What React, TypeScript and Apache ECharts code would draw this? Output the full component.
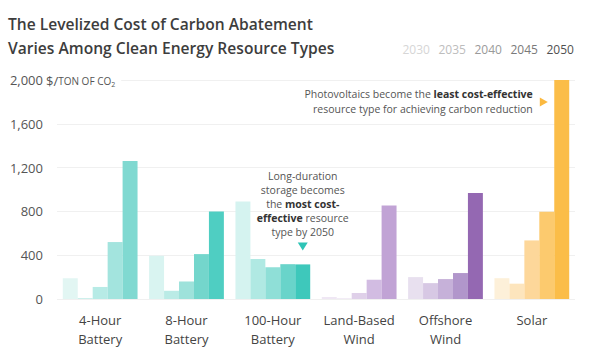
import React, { useEffect, useRef } from "react";
import * as echarts from "echarts";

const FONT = "'Open Sans', 'Noto Sans', sans-serif";

const categories = [
  "4-Hour\nBattery",
  "8-Hour\nBattery",
  "100-Hour\nBattery",
  "Land-Based\nWind",
  "Offshore\nWind",
  "Solar",
];
const years = ["2030", "2035", "2040", "2045", "2050"];

const v2030 = [190, 395, 890, 18, 200, 190];
const v2035 = [10, 75, 365, 6, 145, 140];
const v2040 = [110, 160, 290, 55, 182, 535];
const v2045 = [520, 410, 318, 176, 237, 796];
const v2050 = [1260, 800, 316, 855, 967, 2000];
const seriesValues = [v2030, v2035, v2040, v2045, v2050];

const yTicks = [0, 400, 800, 1200, 1600, 2000];

// colours per category, light (2030) -> dark (2050)
const palettes = [
  ["#e2f6f3", "#cdf0ec", "#b7ebe6", "#a3e4de", "#80d9d1"],
  ["#d9f4f1", "#baebe6", "#9ee2db", "#74d6cc", "#4fcec2"],
  ["#d5f3f0", "#b0e9e3", "#8fdfd7", "#69d4ca", "#3ec8bb"],
  ["#efe7f4", "#ebe2f1", "#dfd0e9", "#d2bce2", "#c1a3d5"],
  ["#e8e0ef", "#d7c8e4", "#c6b1d9", "#b196cb", "#9468b2"],
  ["#fdf0d9", "#fde5bd", "#fdd79a", "#fcca6e", "#fbbd48"],
];
const legendColors = ["#d6d6d6", "#bdbdbd", "#9a9a9a", "#7a7a7a", "#505050"];

export default function App() {
  const ref = useRef<HTMLDivElement>(null);

  useEffect(() => {
    document.body.style.margin = "0";
    if (!ref.current) return;
    const chart = echarts.init(ref.current, null, { renderer: "svg" });

    const series: any[] = years.map((y, i) => ({
      type: "bar",
      name: y,
      barGap: "0%",
      barCategoryGap: "13.4%",
      data: seriesValues[i].map((v, j) => ({
        value: v,
        itemStyle: { color: palettes[j][i] },
      })),
    }));

    series[4].markPoint = {
      silent: true,
      data: [
        {
          coord: [categories[2], 480],
          symbol: "triangle",
          symbolRotate: 180,
          symbolSize: [10, 8],
          itemStyle: { color: "#2ec4b6" },
          label: {
            show: true,
            position: "top",
            distance: 3,
            formatter:
              "{n|Long-duration}\n{n|storage becomes}\n{n|the }{b|most cost-}\n{b|effective}{n| resource}\n{n|type by 2050}",
            rich: {
              n: { fontFamily: FONT, fontSize: 10.5, color: "#555", lineHeight: 14 },
              b: {
                fontFamily: FONT,
                fontSize: 10.5,
                fontWeight: 700,
                color: "#333",
                lineHeight: 14,
              },
            },
          },
        },
      ],
    };

    series[3].markPoint = {
      silent: true,
      data: [
        {
          coord: [categories[5], 1800],
          symbol: "triangle",
          symbolRotate: -90,
          symbolSize: [9, 8],
          symbolOffset: [-3, 0],
          itemStyle: { color: "#fbb940" },
          label: {
            show: true,
            position: "left",
            distance: 7,
            formatter:
              "{n|Photovoltaics become the }{b|least cost-effective}\n{n|resource type for achieving carbon reduction}",
            rich: {
              n: { fontFamily: FONT, fontSize: 10.5, color: "#555", lineHeight: 15 },
              b: {
                fontFamily: FONT,
                fontSize: 10.5,
                fontWeight: 700,
                color: "#333",
                lineHeight: 15,
              },
            },
          },
        },
      ],
    };

    const graphic: any[] = [
      {
        type: "text",
        left: 8,
        top: 12,
        style: {
          text: "The Levelized Cost of Carbon Abatement\nVaries Among Clean Energy Resource Types",
          fontFamily: FONT,
          fontSize: 15.6,
          fontWeight: 600,
          lineHeight: 24,
          fill: "#3d3d3d",
        },
      },
      {
        type: "text",
        x: 45,
        y: 81,
        z: 100,
        style: {
          text: "{a|$/}{b|TON OF CO}{c|2}",
          textVerticalAlign: "middle",
          backgroundColor: "#fff",
          padding: [2, 6, 2, 1],
          rich: {
            a: { fontFamily: FONT, fontSize: 13, fill: "#555", color: "#555" },
            b: { fontFamily: FONT, fontSize: 10, fill: "#555", color: "#555" },
            c: {
              fontFamily: FONT,
              fontSize: 7,
              fill: "#555",
              color: "#555",
              padding: [7, 0, 0, 0],
            },
          },
        },
      },
      ...years.map((y, i) => ({
        type: "text",
        x: 402.5 + 36 * i,
        y: 49,
        style: {
          text: y,
          fontFamily: FONT,
          fontSize: 12,
          fill: legendColors[i],
          textVerticalAlign: "middle",
        },
      })),
    ];

    chart.setOption({
      animation: false,
      grid: { left: 57, right: 19, top: 80, bottom: 57 },
      graphic,
      xAxis: {
        type: "category",
        data: categories,
        axisLine: { show: false },
        axisTick: { show: false },
        axisLabel: {
          interval: 0,
          color: "#444",
          fontFamily: FONT,
          fontSize: 13,
          lineHeight: 19,
          margin: 11,
        },
      },
      yAxis: {
        type: "value",
        min: yTicks[0],
        max: yTicks[yTicks.length - 1],
        interval: yTicks[1] - yTicks[0],
        axisLine: { show: false },
        axisTick: { show: false },
        axisLabel: {
          color: "#555",
          fontFamily: FONT,
          fontSize: 13,
          margin: 14,
          formatter: (v: number) => v.toLocaleString("en-US"),
        },
        splitLine: { lineStyle: { color: "#f0f0f0" } },
      },
      series,
    });

    return () => chart.dispose();
  }, []);

  return <div ref={ref} style={{ width: 594, height: 356 }} />;
}
